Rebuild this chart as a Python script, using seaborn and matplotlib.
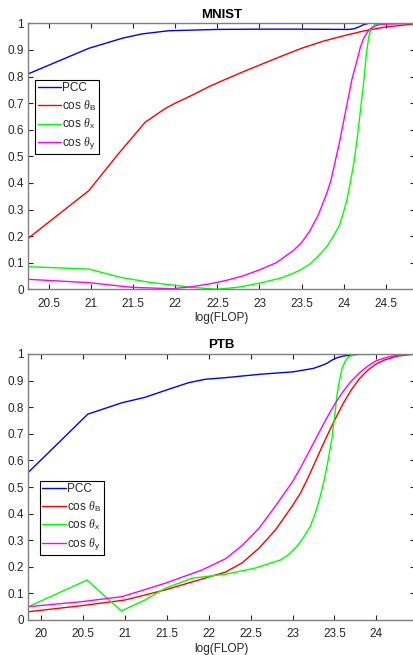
import matplotlib
matplotlib.use("Agg")
import matplotlib.pyplot as plt
import seaborn as sns
import pandas as pd

# ---------------- data ----------------
mnist_pcc_x = [20.25, 20.97, 21.37, 21.6, 21.92, 22.5, 23.0, 23.5, 24.0, 24.06, 24.12, 24.18,
               24.24, 24.3, 24.5, 24.83]
mnist_pcc_y = [0.81, 0.906, 0.944, 0.96, 0.972, 0.977, 0.978, 0.978, 0.977, 0.977, 0.979, 0.986,
               0.995, 1.0, 1.0, 1.0]
mnist_b_x = [20.25, 20.97, 21.31, 21.64, 21.88, 22.0, 22.2, 22.4, 22.6, 22.8, 23.0, 23.25, 23.5,
             23.75, 24.0, 24.25, 24.5, 24.83]
mnist_b_y = [0.192, 0.371, 0.505, 0.628, 0.68, 0.70, 0.73, 0.762, 0.79, 0.817, 0.843, 0.875, 0.906,
             0.932, 0.953, 0.972, 0.986, 0.997]
mnist_x_x = [20.25, 20.97, 21.36, 21.72, 22.2, 22.5, 22.75, 23.0, 23.25, 23.4, 23.5, 23.6, 23.7,
             23.8, 23.88, 23.95, 24.0, 24.04, 24.08, 24.12, 24.16, 24.2, 24.24, 24.27, 24.3,
             24.33, 24.37, 24.5, 24.83]
mnist_x_y = [0.085, 0.076, 0.044, 0.025, 0.0075, 0.0, 0.008, 0.023, 0.042, 0.06, 0.075, 0.095,
             0.125, 0.16, 0.2, 0.24, 0.29, 0.336, 0.4, 0.47, 0.56, 0.67, 0.78, 0.88, 0.95,
             0.98, 0.995, 1.0, 1.0]
mnist_y_x = [20.25, 20.97, 21.48, 21.96, 22.2, 22.4, 22.6, 22.8, 23.0, 23.2, 23.4, 23.5, 23.6,
             23.7, 23.8, 23.85, 23.9, 23.95, 24.0, 24.05, 24.1, 24.16, 24.2, 24.24, 24.28,
             24.32, 24.38, 24.44, 24.83]
mnist_y_y = [0.0375, 0.025, 0.0075, 0.002, 0.01, 0.02, 0.033, 0.05, 0.073, 0.1, 0.145, 0.175,
             0.22, 0.28, 0.36, 0.41, 0.48, 0.55, 0.63, 0.71, 0.79, 0.86, 0.91, 0.944, 0.965,
             0.98, 0.99, 0.996, 1.0]

ptb_pcc_x = [19.85, 20.56, 20.97, 21.24, 21.52, 21.76, 21.96, 22.2, 22.62, 23.01, 23.25, 23.35,
             23.41, 23.47, 23.53, 23.6, 23.69, 23.8, 24.0, 24.44]
ptb_pcc_y = [0.555, 0.774, 0.817, 0.837, 0.867, 0.892, 0.905, 0.911, 0.924, 0.933, 0.946, 0.957,
             0.965, 0.977, 0.986, 0.992, 0.996, 0.999, 1.0, 1.0]
ptb_b_x = [19.85, 20.49, 21.0, 21.48, 22.2, 22.4, 22.6, 22.8, 22.9, 23.0, 23.1, 23.2, 23.3, 23.4,
           23.5, 23.6, 23.7, 23.8, 23.9, 24.0, 24.1, 24.25, 24.44]
ptb_b_y = [0.031, 0.054, 0.075, 0.113, 0.18, 0.215, 0.27, 0.34, 0.385, 0.43, 0.48, 0.545, 0.615,
           0.685, 0.75, 0.812, 0.865, 0.908, 0.94, 0.963, 0.978, 0.992, 0.999]
ptb_x_x = [19.85, 20.55, 20.96, 21.24, 21.48, 21.8, 22.2, 22.54, 22.86, 22.95, 23.05, 23.13,
           23.21, 23.27, 23.33, 23.38, 23.43, 23.47, 23.5, 23.53, 23.56, 23.59, 23.63, 23.67,
           23.75, 24.44]
ptb_x_y = [0.05, 0.15, 0.034, 0.075, 0.119, 0.157, 0.172, 0.194, 0.226, 0.245, 0.276, 0.31,
           0.351, 0.40, 0.464, 0.53, 0.61, 0.683, 0.76, 0.846, 0.90, 0.946, 0.975, 0.99,
           0.998, 1.0]
ptb_y_x = [19.85, 20.49, 20.97, 21.48, 21.92, 22.2, 22.4, 22.6, 22.8, 22.9, 23.0, 23.1, 23.2,
           23.3, 23.4, 23.5, 23.6, 23.7, 23.8, 23.9, 24.0, 24.15, 24.3, 24.44]
ptb_y_y = [0.05, 0.069, 0.088, 0.138, 0.188, 0.23, 0.28, 0.345, 0.43, 0.475, 0.52, 0.575, 0.635,
           0.695, 0.755, 0.81, 0.858, 0.898, 0.93, 0.955, 0.975, 0.99, 0.997, 1.0]

labels = ["PCC", r"cos $\theta_\mathrm{B}$", r"cos $\theta_\mathrm{x}$", r"cos $\theta_\mathrm{y}$"]
colors = ["#0000ff", "#ff0000", "#00ff00", "#ff00ff"]
yticks = [0, 0.1, 0.2, 0.3, 0.4, 0.5, 0.6, 0.7, 0.8, 0.9, 1]
mnist_xticks = [20.5, 21, 21.5, 22, 22.5, 23, 23.5, 24, 24.5]
ptb_xticks = [20, 20.5, 21, 21.5, 22, 22.5, 23, 23.5, 24]

# ---------------- style ----------------
sns.set_style("ticks")
plt.rcParams["font.family"] = ["Liberation Sans", "DejaVu Sans"]
plt.rcParams["mathtext.fontset"] = "custom"
plt.rcParams["mathtext.it"] = "Liberation Serif:italic"
plt.rcParams["mathtext.rm"] = "Liberation Sans"
axc = "#262626"

fig = plt.figure(figsize=(4.14, 6.55), dpi=100)
ax1 = fig.add_axes([28.3 / 414, 1 - 289.3 / 655, (415 - 28.3) / 414, 266 / 655])
ax2 = fig.add_axes([28.3 / 414, 1 - 620 / 655, (415 - 28.3) / 414, 266 / 655])


def draw(ax, series, title, xlim, xticks, leg_anchor):
    for (xs, ys), lab, col in zip(series, labels, colors):
        df = pd.DataFrame({"x": xs, "y": ys})
        sns.lineplot(data=df, x="x", y="y", ax=ax, color=col, label=lab,
                     linewidth=1.0, sort=False, estimator=None)
    ax.set_xlim(*xlim)
    ax.set_ylim(0, 1)
    ax.set_xticks(xticks)
    ax.set_xticklabels([f"{v:g}" for v in xticks])
    ax.set_yticks(yticks)
    ax.set_yticklabels([f"{v:g}" for v in yticks])
    ax.tick_params(direction="in", length=3.5, width=0.8, colors=axc, labelsize=8.5,
                   top=True, right=True)
    ax.tick_params(axis="x", pad=6)
    ax.tick_params(axis="y", pad=3)
    for s in ax.spines.values():
        s.set_color("#7f7f7f")
        s.set_linewidth(1.0)
        s.set_visible(True)
    ax.set_title(title, fontsize=9.5, fontweight="bold", pad=4, color="black")
    ax.set_xlabel("log(FLOP)", fontsize=8.5, color=axc, labelpad=2)
    ax.set_ylabel("")
    leg = ax.legend(loc="upper left", bbox_to_anchor=leg_anchor, borderaxespad=0,
                    fontsize=8.5, frameon=True, fancybox=False, shadow=False,
                    handlelength=2.0, handletextpad=0.1, labelspacing=0.32,
                    borderpad=0.2)
    leg.get_frame().set_edgecolor("black")
    leg.get_frame().set_linewidth(0.8)
    leg.get_frame().set_alpha(1)


draw(ax1, [(mnist_pcc_x, mnist_pcc_y), (mnist_b_x, mnist_b_y), (mnist_x_x, mnist_x_y),
           (mnist_y_x, mnist_y_y)], "MNIST", (20.25, 24.85), mnist_xticks, (0.018, 0.787))
draw(ax2, [(ptb_pcc_x, ptb_pcc_y), (ptb_b_x, ptb_b_y), (ptb_x_x, ptb_x_y),
           (ptb_y_x, ptb_y_y)], "PTB", (19.85, 24.46), ptb_xticks, (0.030, 0.523))

fig.savefig("out.png", dpi=100)
